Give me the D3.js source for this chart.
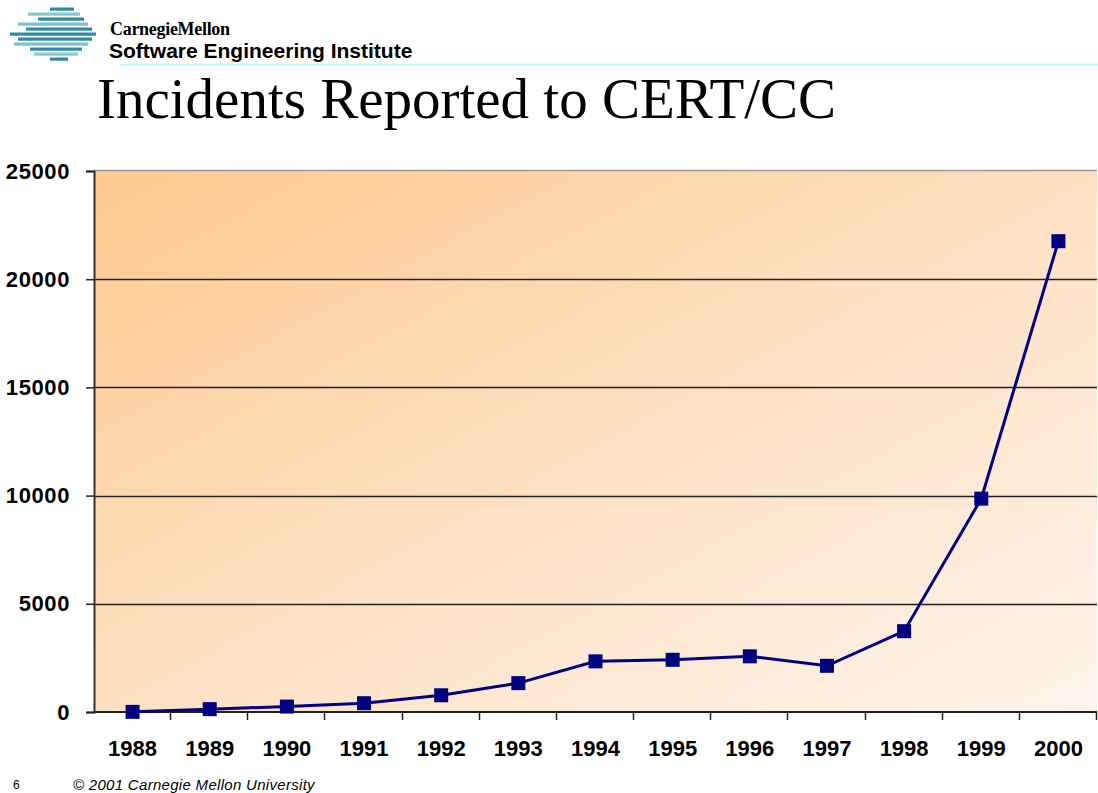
<!DOCTYPE html>
<html>
<head>
<meta charset="utf-8">
<script src="https://cdn.jsdelivr.net/npm/d3@7"></script>
<style>
  body { margin: 0; background: #fff; }
  svg { display: block; }
</style>
</head>
<body>
<div id="chart"></div>
<script>
// chart data
var years = ["1988", "1989", "1990", "1991", "1992", "1993", "1994",
             "1995", "1996", "1997", "1998", "1999", "2000"];
var incidents = [6, 132, 252, 406, 773, 1334, 2340, 2412, 2573, 2134, 3734, 9859, 21756];
var yTicks = [0, 5000, 10000, 15000, 20000, 25000];

var W = 1098, H = 793;
var margin = { top: 171, right: 1, bottom: 81, left: 94 },
    width = W - margin.left - margin.right,
    height = H - margin.top - margin.bottom;

var svg = d3.select("#chart").append("svg")
    .attr("width", W)
    .attr("height", H);

// background gradient of plot area
var defs = svg.append("defs");
var grad = defs.append("linearGradient")
    .attr("id", "bg")
    .attr("x1", "0").attr("y1", "0")
    .attr("x2", "1").attr("y2", "1");
grad.append("stop").attr("offset", "0%").attr("stop-color", "#fdc98e");
grad.append("stop").attr("offset", "50%").attr("stop-color", "#fde0c2");
grad.append("stop").attr("offset", "100%").attr("stop-color", "#fdf4ec");

// header logo - stripes forming a diamond
var stripes = [
    { y: 9, x0: 50, x1: 74, c: "#2c8aa6" },
    { y: 14, x0: 28, x1: 80, c: "#8cc4d4" },
    { y: 19, x0: 38, x1: 84, c: "#2c8aa6" },
    { y: 24, x0: 18, x1: 88, c: "#7fbdd0" },
    { y: 29, x0: 26, x1: 92, c: "#2c8aa6" },
    { y: 34, x0: 10, x1: 96, c: "#2c8aa6" },
    { y: 39, x0: 18, x1: 92, c: "#2c8aa6" },
    { y: 44, x0: 14, x1: 88, c: "#7fbdd0" },
    { y: 49, x0: 30, x1: 82, c: "#2c8aa6" },
    { y: 54, x0: 34, x1: 78, c: "#8cc4d4" },
    { y: 59, x0: 50, x1: 68, c: "#2c8aa6" }
];
svg.append("g").selectAll("rect")
    .data(stripes)
    .enter().append("rect")
    .attr("x", function (d) { return d.x0; })
    .attr("y", function (d) { return d.y - 1.5; })
    .attr("width", function (d) { return d.x1 - d.x0; })
    .attr("height", 3.2)
    .attr("fill", function (d) { return d.c; });

svg.append("text")
    .attr("x", 110).attr("y", 35)
    .style("font-family", "'Liberation Serif', 'DejaVu Serif', serif")
    .style("font-size", "18px")
    .style("font-weight", "bold")
    .style("letter-spacing", "-0.3px")
    .text("CarnegieMellon");

svg.append("text")
    .attr("x", 109).attr("y", 58)
    .style("font-family", "'Liberation Sans', Arial, sans-serif")
    .style("font-weight", "bold")
    .style("font-size", "21px")
    .text("Software Engineering Institute");

svg.append("line")
    .attr("x1", 120).attr("x2", W)
    .attr("y1", 64.5).attr("y2", 64.5)
    .attr("stroke", "#bdf0f4")
    .attr("stroke-width", 1.5);

// slide title
svg.append("text")
    .attr("x", 97).attr("y", 118)
    .style("font-family", "'Liberation Serif', 'Times New Roman', serif")
    .style("font-size", "57px")
    .text("Incidents Reported to CERT/CC");

var g = svg.append("g")
    .attr("transform", "translate(" + margin.left + "," + margin.top + ")");

var x = d3.scaleBand()
    .domain(years)
    .range([0, width]);

var y = d3.scaleLinear()
    .domain([0, 25000])
    .range([height, 0]);

g.append("rect")
    .attr("width", width)
    .attr("height", height)
    .attr("fill", "url(#bg)");

// top border
g.append("line")
    .attr("x1", 0).attr("x2", width)
    .attr("y1", -0.5).attr("y2", -0.5)
    .attr("stroke", "#9a9a9a")
    .attr("stroke-width", 1.5);

// horizontal grid lines
g.append("g").selectAll("line")
    .data(yTicks.slice(1, -1))
    .enter().append("line")
    .attr("x1", 0).attr("x2", width)
    .attr("y1", function (d) { return Math.round(y(d)) + 0.5; })
    .attr("y2", function (d) { return Math.round(y(d)) + 0.5; })
    .attr("stroke", "#222")
    .attr("stroke-width", 1.5);

// y axis
var yAxis = g.append("g")
    .call(d3.axisLeft(y).tickValues(yTicks).tickSize(8).tickPadding(16).tickFormat(d3.format("d")));
yAxis.select(".domain").attr("stroke", "#333").attr("stroke-width", 2);
yAxis.selectAll(".tick line").attr("stroke", "#222").attr("stroke-width", 1.5);
yAxis.selectAll("text")
    .style("font-family", "'Liberation Sans', Arial, sans-serif")
    .style("font-weight", "bold")
    .style("font-size", "22px")
    .style("letter-spacing", "0.6px")
    .attr("fill", "#000");

// x axis - ticks sit between the categories
var xAxis = g.append("g")
    .attr("transform", "translate(0," + height + ")");
xAxis.append("line")
    .attr("x1", 0).attr("x2", width)
    .attr("stroke", "#222").attr("stroke-width", 2);
xAxis.selectAll(".xt")
    .data(years)
    .enter().append("line")
    .attr("class", "xt")
    .attr("x1", function (d) { return Math.round(x(d) + x.bandwidth()) - 0.5; })
    .attr("x2", function (d) { return Math.round(x(d) + x.bandwidth()) - 0.5; })
    .attr("y1", 0).attr("y2", 8)
    .attr("stroke", "#222").attr("stroke-width", 1.5);
xAxis.selectAll("text")
    .data(years)
    .enter().append("text")
    .attr("x", function (d) { return x(d) + x.bandwidth() / 2; })
    .attr("y", 44)
    .attr("text-anchor", "middle")
    .style("font-family", "'Liberation Sans', Arial, sans-serif")
    .style("font-weight", "bold")
    .style("font-size", "22px")
    .text(function (d) { return d; });

// data line
var line = d3.line()
    .x(function (d, i) { return x(years[i]) + x.bandwidth() / 2; })
    .y(function (d) { return y(d); });

g.append("path")
    .datum(incidents)
    .attr("d", line)
    .attr("fill", "none")
    .attr("stroke", "#000080")
    .attr("stroke-width", 3);

var ms = 14;
g.append("g").selectAll("rect")
    .data(incidents)
    .enter().append("rect")
    .attr("x", function (d, i) { return x(years[i]) + x.bandwidth() / 2 - ms / 2; })
    .attr("y", function (d) { return y(d) - ms / 2; })
    .attr("width", ms)
    .attr("height", ms)
    .attr("fill", "#000080");

// footer
svg.append("text")
    .attr("x", 13).attr("y", 789)
    .style("font-family", "'Liberation Sans', Arial, sans-serif")
    .style("font-size", "12px")
    .text("6");

svg.append("text")
    .attr("x", 73).attr("y", 790)
    .style("font-family", "'Liberation Sans', Arial, sans-serif")
    .style("font-style", "italic")
    .style("font-size", "15px")
    .style("letter-spacing", "0.3px")
    .text("\u00a9 2001 Carnegie Mellon University");
</script>
</body>
</html>
